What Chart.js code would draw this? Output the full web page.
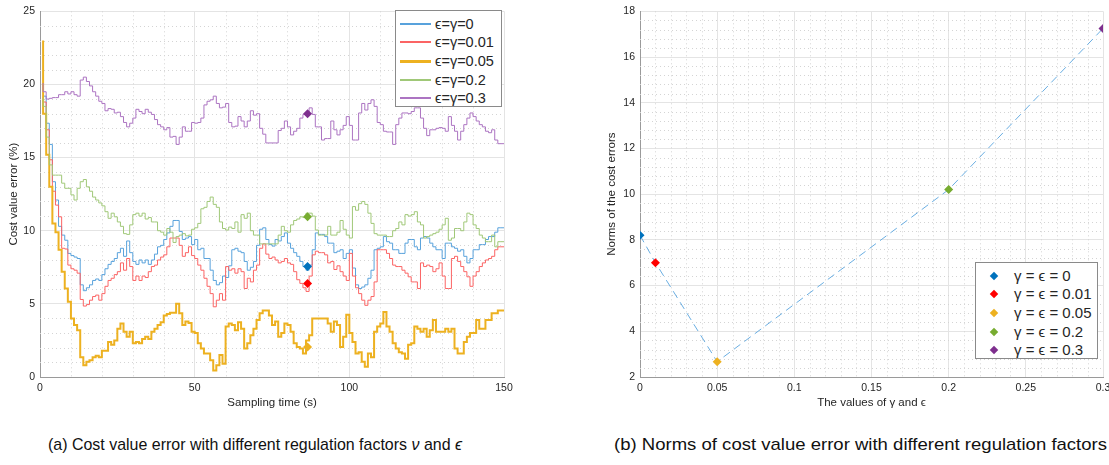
<!DOCTYPE html>
<html>
<head>
<meta charset="utf-8">
<script src="https://cdn.jsdelivr.net/npm/chart.js@4/dist/chart.umd.min.js"></script>
<style>
  body { margin: 0; width: 1109px; height: 465px; background: #fff; position: relative; overflow: hidden;
         font-family: "Liberation Sans", Arial, sans-serif; color: #262626; }
  canvas { position: absolute; top: 0; }
  .legend { position: absolute; background: #fff; border: 1px solid #8a8a8a; box-sizing: border-box; }
  .row { position: absolute; left: 0; height: 18px; white-space: nowrap; }
  .row .sample { position: absolute; top: 8px; left: 4px; width: 31px; }
  .row .lbl { position: absolute; top: 0; line-height: 18px; }
  .diamond { position: absolute; width: 6px; height: 6px; transform: rotate(45deg); }
  .cap { position: absolute; top: 435px; font-size: 17px; line-height: 20px; white-space: nowrap; transform-origin: left center; color: #111; }
</style>
</head>
<body>
<canvas id="leftChart" width="520" height="420" style="left:0"></canvas>
<canvas id="rightChart" width="529" height="420" style="left:580px"></canvas>
<div id="leftLegend" class="legend" style="left:395px;top:10px;width:107px;height:97px"></div>
<div id="rightLegend" class="legend" style="left:975px;top:262px;width:123px;height:97px"></div>
<div class="cap" data-w="414" style="left:48px">(a) Cost value error with different regulation factors <i>ν</i> and <i>ϵ</i></div>
<div class="cap" data-w="493" style="left:614px">(b) Norms of cost value error with different regulation factors</div>
<script>
// sampling instants 1..150 s
const TIME = Array.from({ length: 150 }, (_, i) => i + 1);

const SERIES_LABELS = ["ϵ=γ=0", "ϵ=γ=0.01", "ϵ=γ=0.05", "ϵ=γ=0.2", "ϵ=γ=0.3"];

const errEps0 = [
  19.2, 19.2, 17.35, 15.9, 13.35, 12.1, 10.3, 9.7, 9.35, 8.45,
  8.3, 8.2, 8.1, 6.3, 5.9, 6.1, 6.3, 6.6, 6.7, 6.6,
  7.0, 7.4, 7.7, 7.9, 8.1, 8.5, 8.8, 8.25, 9.3, 8.5,
  7.9, 7.7, 8.0, 7.8, 8.0, 7.7, 8.0, 8.4, 8.9, 9.0,
  9.4, 9.85, 10.3, 10.7, 10.7, 9.95, 9.4, 9.5, 9.6, 9.05,
  9.4, 8.7, 8.8, 8.1, 8.1, 7.3, 6.6, 6.3, 6.45, 6.9,
  6.8, 7.6, 8.7, 8.8, 8.6, 8.5, 7.9, 7.3, 7.5, 7.9,
  9.0, 10.1, 10.2, 9.4, 9.05, 8.95, 9.4, 9.3, 9.6, 9.85,
  9.15, 8.8, 8.5, 8.25, 7.9, 7.55, 7.3, 7.65, 8.7, 9.85,
  9.75, 9.75, 9.6, 9.15, 9.15, 8.5, 8.6, 8.7, 8.1, 8.45,
  8.7, 7.45, 6.3, 6.05, 6.15, 6.3, 6.75, 7.3, 8.7, 8.8,
  8.9, 9.6, 9.25, 9.15, 8.7, 8.7, 8.45, 8.45, 9.15, 9.4,
  9.4, 8.9, 8.7, 9.5, 9.6, 9.5, 9.15, 8.9, 8.7, 8.7,
  8.1, 9.15, 9.15, 8.9, 8.8, 8.6, 8.7, 8.25, 7.8, 8.1,
  8.7, 8.7, 9.05, 9.05, 9.4, 9.6, 9.6, 9.9, 10.2, 10.2
];
const errEps001 = [
  19.0, 18.8, 16.9, 14.85, 12.7, 11.75, 10.95, 8.8, 8.75, 7.65,
  7.4, 7.3, 7.1, 5.3, 4.85, 4.95, 5.25, 5.5, 5.6, 5.25,
  5.7, 6.2, 6.6, 6.75, 7.0, 7.2, 7.8, 7.3, 8.1, 7.55,
  6.6, 6.9, 6.6, 6.9, 6.8, 7.2, 7.55, 7.65, 8.0, 8.2,
  8.35, 8.9, 9.5, 9.5, 9.5, 9.0, 8.25, 8.5, 8.9, 8.3,
  8.1, 7.65, 7.3, 6.75, 6.2, 5.7, 4.8, 5.25, 5.7, 5.25,
  7.55, 7.3, 7.4, 7.1, 7.4, 7.2, 6.05, 6.75, 6.5, 7.3,
  7.65, 8.8, 9.1, 8.4, 8.1, 8.2, 8.0, 7.8, 7.9, 8.1,
  7.8, 7.7, 7.2, 6.65, 6.4, 6.1, 5.85, 6.9, 8.35, 8.6,
  8.5, 8.5, 8.35, 7.8, 7.9, 7.35, 7.6, 7.2, 6.9, 6.6,
  8.45, 6.9, 6.1, 5.7, 5.25, 4.9, 5.25, 5.5, 6.5, 8.7,
  8.7, 8.7, 8.45, 8.1, 7.65, 7.55, 7.55, 7.3, 7.1, 6.85,
  6.5, 6.5, 6.05, 7.8, 7.55, 7.65, 7.55, 7.2, 7.4, 7.8,
  6.9, 6.05, 6.05, 8.1, 8.25, 7.9, 7.55, 7.2, 6.85, 6.2,
  6.9, 7.2, 7.55, 7.8, 8.0, 8.1, 8.25, 8.7, 8.9, 8.9
];
const errEps005 = [
  23, 18, 15.2, 13.0, 10.5, 9.9, 8.7, 7.2, 6.05, 5.15,
  4.0, 3.55, 3.2, 1.35, 0.8, 1.05, 1.15, 1.35, 1.45, 1.35,
  1.8, 1.8, 2.4, 2.2, 2.5, 3.3, 3.65, 3.1, 2.75, 3.1,
  2.3, 2.4, 2.3, 2.6, 2.75, 2.6, 3.1, 3.3, 3.55, 3.75,
  4.2, 4.3, 4.4, 4.4, 5.0, 4.35, 3.55, 3.8, 3.7, 3.1,
  3.0, 2.3, 1.95, 1.6, 1.6, 1.15, 0.45, 0.8, 1.5, 0.9,
  3.45, 3.65, 3.55, 3.2, 3.75, 3.3, 1.95, 2.3, 2.85, 3.3,
  3.9, 4.35, 4.55, 4.55, 4.2, 3.55, 3.8, 2.75, 3.0, 3.65,
  3.55, 3.1, 2.3, 2.05, 1.95, 1.6, 2.5, 2.85, 4.0, 4.0,
  4.0, 4.0, 4.0, 3.65, 3.1, 3.8, 3.55, 2.05, 2.75, 4.25,
  3.0, 2.4, 1.6, 1.7, 1.05, 0.7, 1.6, 1.35, 3.1, 3.45,
  3.65, 4.45, 3.45, 3.1, 2.3, 1.95, 1.7, 1.6, 1.25, 2.2,
  2.3, 3.45, 3.3, 3.1, 3.3, 2.75, 3.2, 3.9, 3.1, 3.1,
  3.1, 3.3, 3.1, 3.3, 1.95, 1.6, 1.6, 2.4, 2.75, 3.0,
  3.0, 3.9, 3.3, 3.3, 3.9, 3.9, 4.35, 4.35, 4.55, 4.55
];
const errEps02 = [
  19.1, 18.5, 16.4, 14.5, 13.8, 13.8, 13.8, 13.25, 12.9, 12.9,
  12.45, 12.1, 12.9, 13.35, 13.5, 13.0, 12.7, 12.3, 12.1, 11.9,
  11.7, 11.3, 10.85, 11.2, 10.95, 10.6, 10.3, 9.8, 9.75, 10.4,
  11.1, 11.2, 11.0, 11.2, 10.8, 10.9, 10.6, 10.6, 10.0, 9.9,
  9.7, 10.15, 9.9, 9.2, 9.6, 9.7, 9.8, 9.65, 9.7, 10.1,
  10.2, 10.5, 11.5, 11.6, 12.0, 12.3, 11.8, 11.6, 10.6, 10.15,
  10.05, 10.25, 10.15, 10.6, 9.9, 11.1, 10.85, 11.2, 10.0, 9.7,
  9.7, 9.1, 9.1, 9.1, 9.1, 9.1, 9.1, 9.7, 10.3, 10.0,
  9.9, 10.4, 10.7, 10.8, 10.95, 10.9, 11.2, 11.2, 11.0, 10.05,
  9.7, 9.7, 9.7, 10.3, 9.7, 9.7, 9.9, 10.7, 10.1, 9.7,
  9.5, 11.65, 11.4, 11.85, 12.0, 11.8, 11.2, 10.5, 9.8, 9.7,
  9.7, 9.7, 9.6, 9.6, 10.0, 10.15, 10.6, 10.4, 11.1, 11.0,
  11.1, 11.3, 10.6, 10.4, 9.5, 9.6, 9.7, 9.8, 9.9, 10.1,
  10.4, 10.85, 9.35, 9.5, 10.15, 10.15, 10.0, 10.6, 11.2, 11.1,
  10.4, 10.15, 9.7, 9.5, 9.25, 9.25, 9.7, 8.9, 9.25, 9.25
];
const errEps03 = [
  20.1, 19.5, 19.0, 19.05, 19.1, 19.1, 19.3, 19.3, 19.5, 19.35,
  19.5, 19.3, 19.2, 20.3, 20.5, 20.2, 19.9, 19.5, 19.2, 18.85,
  18.7, 18.2, 18.35, 18.3, 18.05, 18.1, 17.8, 17.4, 17.1, 17.35,
  17.7, 18.3, 18.15, 18.0, 18.3, 18.1, 17.95, 17.6, 17.25, 17.1,
  16.9, 17.05, 16.4, 16.45, 15.9, 16.4, 17.1, 16.8, 16.8, 17.4,
  17.35, 17.4, 17.7, 18.6, 18.85, 18.95, 19.2, 18.7, 18.4, 18.45,
  18.7, 17.4, 17.1, 17.15, 17.8, 17.5, 17.1, 17.5, 18.2, 17.9,
  18.0, 17.0, 16.6, 16.0, 16.0, 16.0, 16.0, 16.85, 17.0, 17.5,
  17.1, 16.55, 16.8, 17.0, 17.7, 17.95, 18.0, 18.4, 17.95, 17.1,
  17.1, 16.2, 16.3, 16.3, 17.5, 16.9, 16.55, 16.9, 17.2, 17.8,
  17.2, 16.2, 16.2, 18.05, 18.7, 18.25, 18.7, 18.95, 18.5, 17.4,
  17.25, 16.8, 16.75, 16.75, 15.9, 17.25, 17.7, 18.05, 18.05, 18.0,
  18.15, 18.4, 18.4, 17.7, 17.0, 16.5, 16.9, 16.9, 17.0, 17.05,
  17.0, 16.8, 17.8, 17.2, 16.8, 16.2, 16.8, 17.25, 17.7, 18.05,
  17.8, 17.5, 17.25, 17.1, 16.8, 16.7, 16.9, 16.2, 15.95, 15.95
];

// highlighted samples on panel (a)
const MARK_TIME = 86.5;
const markValues = [7.55, 6.4, 2.05, 10.95, 18.0];

// panel (b)
const factorValues = [0, 0.01, 0.05, 0.2, 0.3];
const normValues = [8.2, 7.0, 2.67, 10.2, 17.25];
const NORM_LABELS = ["γ = ϵ = 0", "γ = ϵ = 0.01", "γ = ϵ = 0.05", "γ = ϵ = 0.2", "γ = ϵ = 0.3"];

const LINE_COLORS = ["#58a2dc", "#fb6464", "#edb120", "#a0c878", "#ac74c2"];
const MARK_COLORS = ["#0072bd", "#ff0000", "#edb120", "#77ac30", "#7e2f8e"];
const LINE_WIDTHS = [1, 1, 2, 1, 1];

Chart.defaults.font.family = "'Liberation Sans', Arial, sans-serif";
Chart.defaults.color = "#262626";

// dotted minor grid, drawn through the chart scales
const minorGrid = {
  id: "minorGrid",
  beforeDatasetsDraw(chart, args, opts) {
    const { ctx, chartArea: a, scales } = chart;
    ctx.save();
    ctx.strokeStyle = "#d4d4d4";
    ctx.lineWidth = 1;
    ctx.setLineDash([1, 3]);
    ctx.beginPath();
    opts.x.forEach((v) => {
      const px = Math.round(scales.x.getPixelForValue(v)) + 0.5;
      ctx.moveTo(px, a.top);
      ctx.lineTo(px, a.bottom);
    });
    opts.y.forEach((v) => {
      const py = Math.round(scales.y.getPixelForValue(v)) + 0.5;
      ctx.moveTo(a.left, py);
      ctx.lineTo(a.right, py);
    });
    ctx.stroke();
    ctx.restore();
  },
};

function minorList(count, step, skipEvery, start) {
  const out = [];
  for (let i = 1; i < count; i++) {
    if (i % skipEvery !== 0) out.push(+(start + i * step).toFixed(4));
  }
  return out;
}

// tick text like "0.1", "0.15", "0.2"
const shortNum = (v) => String(+Number(v).toFixed(2));

function axis(min, max, step, title, titlePad, size) {
  return {
    type: "linear",
    min,
    max,
    ticks: { stepSize: step, padding: 5, font: { size: 10.5 }, color: "#262626", callback: shortNum },
    grid: { color: "#e4e4e4", drawTicks: false },
    border: { color: "#9a9a9a" },
    title: { display: true, text: title, font: { size: 11.5 }, color: "#262626", padding: titlePad },
    afterFit: size,
  };
}

const pointDiamond = { pointStyle: "rectRot", pointRadius: 4.5, pointHoverRadius: 4.5, borderWidth: 0 };

// ---- panel (a)
const leftLines = [errEps0, errEps001, errEps005, errEps02, errEps03].map((vals, i) => ({
  type: "line",
  label: SERIES_LABELS[i],
  data: TIME.map((t, k) => ({ x: t, y: vals[k] })),
  borderColor: LINE_COLORS[i],
  borderWidth: LINE_WIDTHS[i],
  stepped: "after",
  pointRadius: 0,
  fill: false,
  order: 10 - i,
}));
const leftMarks = markValues.map((v, i) => ({
  type: "scatter",
  data: [{ x: MARK_TIME, y: v }],
  backgroundColor: MARK_COLORS[i],
  ...pointDiamond,
  order: 0,
}));

new Chart(document.getElementById("leftChart"), {
  type: "line",
  data: { datasets: [...leftMarks, ...leftLines] },
  options: {
    responsive: false,
    animation: false,
    layout: { padding: { top: 11, right: 16, left: 0, bottom: 0 } },
    plugins: {
      legend: { display: false },
      tooltip: { enabled: false },
      minorGrid: { x: minorList(15, 10, 5, 0), y: minorList(25, 1, 5, 0) },
    },
    scales: {
      x: axis(0, 150, 50, "Sampling time (s)", { top: 0, bottom: 10 }, (s) => { s.height = 43; }),
      y: axis(0, 25, 5, "Cost value error (%)", { top: 7, bottom: 0 }, (s) => { s.width = 40; }),
    },
  },
  plugins: [minorGrid],
});

// ---- panel (b)
const rightPoints = factorValues.map((x, i) => ({
  type: "scatter",
  label: NORM_LABELS[i],
  data: [{ x, y: normValues[i] }],
  backgroundColor: MARK_COLORS[i],
  ...pointDiamond,
  order: 0,
}));
const rightLine = {
  type: "scatter",
  showLine: true,
  data: factorValues.map((x, i) => ({ x, y: normValues[i] })),
  borderColor: "#6aaee2",
  borderWidth: 1,
  borderDash: [8, 5],
  pointRadius: 0,
  order: 5,
};

new Chart(document.getElementById("rightChart"), {
  type: "scatter",
  data: { datasets: [...rightPoints, rightLine] },
  options: {
    responsive: false,
    animation: false,
    layout: { padding: { top: 11, right: 6, left: 0, bottom: 0 } },
    plugins: {
      legend: { display: false },
      tooltip: { enabled: false },
      minorGrid: { x: minorList(30, 0.01, 5, 0), y: minorList(40, 0.4, 5, 2) },
    },
    scales: {
      x: axis(0, 0.3, 0.05, "The values of γ and ϵ", { top: 0, bottom: 10 }, (s) => {
        s.height = 43;
        s.paddingRight = 0;
      }),
      y: axis(2, 18, 2, "Norms of the cost errors", { top: 25, bottom: 0 }, (s) => { s.width = 60; }),
    },
  },
  plugins: [minorGrid],
});

// ---- legends
function buildLegend(el, labels, sampleFn, textLeft, fontSize) {
  labels.forEach((lab, i) => {
    const row = document.createElement("div");
    row.className = "row";
    row.style.top = 3.5 + i * 18.7 + "px";
    row.appendChild(sampleFn(i));
    const t = document.createElement("span");
    t.className = "lbl";
    t.style.left = textLeft + "px";
    t.style.fontSize = fontSize + "px";
    t.textContent = lab;
    row.appendChild(t);
    el.appendChild(row);
  });
}

buildLegend(document.getElementById("leftLegend"), SERIES_LABELS, (i) => {
  const s = document.createElement("div");
  s.className = "sample";
  s.style.borderTop = LINE_WIDTHS[i] + 1 + "px solid " + LINE_COLORS[i];
  return s;
}, 39, 14.5);

buildLegend(document.getElementById("rightLegend"), NORM_LABELS, (i) => {
  const d = document.createElement("div");
  d.className = "diamond";
  d.style.left = "15px";
  d.style.top = "6px";
  d.style.background = MARK_COLORS[i];
  return d;
}, 38, 15);

// captions: fit the condensed look of the original
document.querySelectorAll(".cap").forEach((el) => {
  const w = el.getBoundingClientRect().width;
  el.style.transform = "scaleX(" + el.dataset.w / w + ")";
});
</script>
</body>
</html>
